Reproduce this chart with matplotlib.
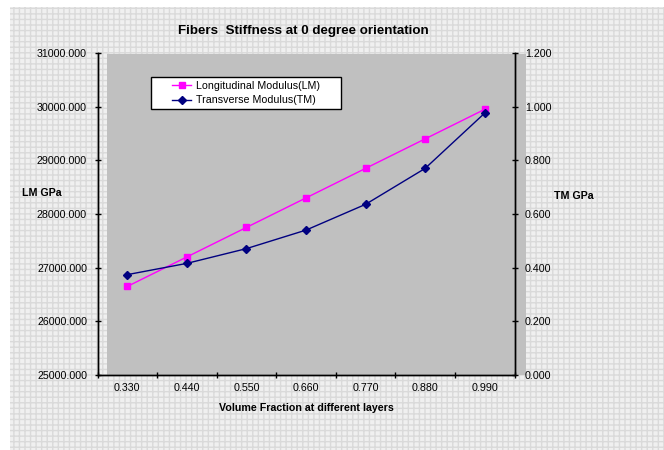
import numpy as np
import matplotlib as mpl
mpl.use('Agg')
import matplotlib.pyplot as plt
from matplotlib.patches import Rectangle
from matplotlib.ticker import FormatStrFormatter, MultipleLocator

# Data
volume_fraction = ["0.330", "0.440", "0.550", "0.660", "0.770", "0.880", "0.990"]
lm_gpa = [26650, 27200, 27750, 28300, 28850, 29400, 29950]
tm_gpa = [0.374, 0.416, 0.471, 0.540, 0.636, 0.770, 0.976]

plt.rcParams['font.family'] = ['Liberation Sans', 'DejaVu Sans']
fs = 7.7

fig = plt.figure(figsize=(6.64, 4.5), dpi=100)
W, H = 664.0, 450.0

# stippled chart-area background
bg = Rectangle((10 / W, 0), 1 - 10 / W, 1 - 7 / H, transform=fig.transFigure,
               facecolor='#f0f0f0', edgecolor='#dadada', hatch='+++', lw=0, zorder=0)
fig.patches.append(bg)

# plot area (Excel offsets the grey block a little to the right)
ax_l, ax_r, ax_t, ax_b = 97.5, 514.5, 53, 375
plot_bg = Rectangle((107 / W, 1 - ax_b / H), (526 - 107) / W, (ax_b - 54) / H,
                    transform=fig.transFigure, facecolor='#c0c0c0', lw=0, zorder=1)
fig.patches.append(plot_bg)

ax = fig.add_axes([ax_l / W, 1 - ax_b / H, (ax_r - ax_l) / W, (ax_b - ax_t) / H])
ax.set_facecolor('none')
ax2 = ax.twinx()
ax.set_zorder(2)
ax2.set_zorder(3)
ax2.patch.set_visible(False)

x = np.arange(len(volume_fraction))
ax.plot(x, lm_gpa, color='#ff00ff', lw=1.0, marker='s', ms=5,
        label='Longitudinal Modulus(LM)', zorder=3)
ax2.plot(x, tm_gpa, color='#000080', lw=1.0, marker='D', ms=4,
         label='Transverse Modulus(TM)', zorder=3)

ax.set_xlim(-0.5, len(x) - 0.5)
ax.set_ylim(25000, 31000)
ax2.set_ylim(0, 1.2)
ax.yaxis.set_major_locator(MultipleLocator(1000))
ax2.yaxis.set_major_locator(MultipleLocator(0.2))
ax.yaxis.set_major_formatter(FormatStrFormatter('%.3f'))
ax2.yaxis.set_major_formatter(FormatStrFormatter('%.3f'))

ax.set_xticks(x)
ax.set_xticklabels(volume_fraction)
ax.set_xticks(np.arange(-0.5, len(x)), minor=True)
ax.tick_params(axis='x', which='major', length=0, pad=6, labelsize=fs)
ax.tick_params(axis='x', which='minor', direction='inout', length=5, width=1)
ax.tick_params(axis='y', direction='inout', length=5, width=1, pad=5, labelsize=fs)
ax2.tick_params(axis='y', direction='inout', length=5, width=1, pad=5, labelsize=fs)

for a in (ax, ax2):
    a.spines['top'].set_visible(False)
    for s in a.spines.values():
        s.set_linewidth(1.0)

fig.text(303 / W, 1 - 31 / H, 'Fibers  Stiffness at 0 degree orientation',
         ha='center', va='center', fontsize=9.6, fontweight='bold')
fig.text(306 / W, 1 - 408 / H, 'Volume Fraction at different layers',
         ha='center', va='center', fontsize=fs, fontweight='bold')
fig.text(22 / W, 1 - 193 / H, 'LM GPa', ha='left', va='center',
         fontsize=fs, fontweight='bold')
fig.text(554 / W, 1 - 196 / H, 'TM GPa', ha='left', va='center',
         fontsize=fs, fontweight='bold')

# legend with its own box
box = Rectangle((151 / W, 1 - 109 / H), (341 - 151) / W, (109 - 77) / H,
                transform=fig.transFigure, facecolor='white', edgecolor='black',
                lw=1.0, zorder=6)
fig.patches.append(box)
h1, l1 = ax.get_legend_handles_labels()
h2, l2 = ax2.get_legend_handles_labels()
leg = fig.legend(h1 + h2, l1 + l2, loc='center left',
                 bbox_to_anchor=(172 / W, 1 - 93 / H), frameon=False,
                 fontsize=fs, handlelength=1.8, handletextpad=0.45,
                 labelspacing=0.45, borderpad=0, borderaxespad=0)
leg.set_zorder(7)

fig.savefig('out.png', dpi=100)
